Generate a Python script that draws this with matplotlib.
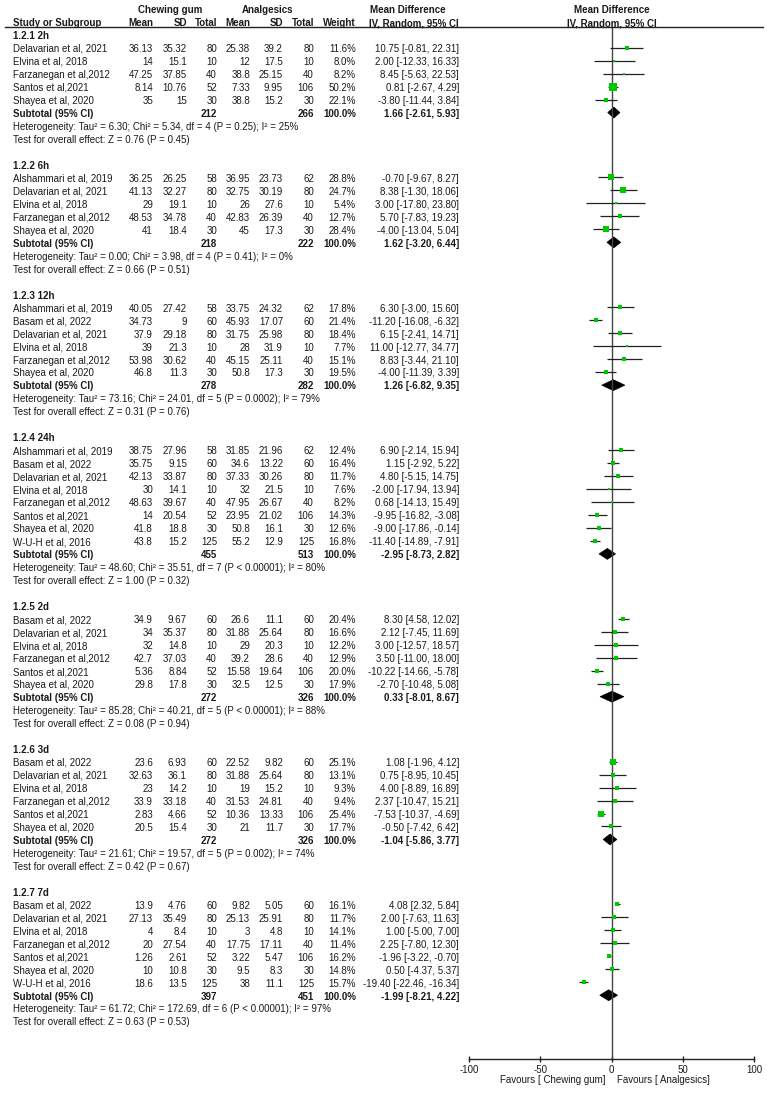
import numpy as np
import matplotlib
matplotlib.use('Agg')
import matplotlib.pyplot as plt
from matplotlib.lines import Line2D
from matplotlib.patches import Polygon
from matplotlib.transforms import blended_transform_factory

plt.rcParams['font.family'] = ['Liberation Sans', 'DejaVu Sans']

# 数据
group_names = ['1.2.1 2h', '1.2.2 6h', '1.2.3 12h', '1.2.4 24h', '1.2.5 2d', '1.2.6 3d', '1.2.7 7d']
group_sizes = [5, 5, 6, 8, 6, 6, 7]

study = ['Delavarian et al, 2021', 'Elvina et al, 2018', 'Farzanegan et al,2012', 'Santos et al,2021', 'Shayea et al, 2020',
         'Alshammari et al, 2019', 'Delavarian et al, 2021', 'Elvina et al, 2018', 'Farzanegan et al,2012', 'Shayea et al, 2020',
         'Alshammari et al, 2019', 'Basam et al, 2022', 'Delavarian et al, 2021', 'Elvina et al, 2018', 'Farzanegan et al,2012', 'Shayea et al, 2020',
         'Alshammari et al, 2019', 'Basam et al, 2022', 'Delavarian et al, 2021', 'Elvina et al, 2018', 'Farzanegan et al,2012', 'Santos et al,2021', 'Shayea et al, 2020', 'W-U-H et al, 2016',
         'Basam et al, 2022', 'Delavarian et al, 2021', 'Elvina et al, 2018', 'Farzanegan et al,2012', 'Santos et al,2021', 'Shayea et al, 2020',
         'Basam et al, 2022', 'Delavarian et al, 2021', 'Elvina et al, 2018', 'Farzanegan et al,2012', 'Santos et al,2021', 'Shayea et al, 2020',
         'Basam et al, 2022', 'Delavarian et al, 2021', 'Elvina et al, 2018', 'Farzanegan et al,2012', 'Santos et al,2021', 'Shayea et al, 2020', 'W-U-H et al, 2016']

gum_mean = [36.13, 14, 47.25, 8.14, 35,
            36.25, 41.13, 29, 48.53, 41,
            40.05, 34.73, 37.9, 39, 53.98, 46.8,
            38.75, 35.75, 42.13, 30, 48.63, 14, 41.8, 43.8,
            34.9, 34, 32, 42.7, 5.36, 29.8,
            23.6, 32.63, 23, 33.9, 2.83, 20.5,
            13.9, 27.13, 4, 20, 1.26, 10, 18.6]
gum_sd = [35.32, 15.1, 37.85, 10.76, 15,
          26.25, 32.27, 19.1, 34.78, 18.4,
          27.42, 9, 29.18, 21.3, 30.62, 11.3,
          27.96, 9.15, 33.87, 14.1, 39.67, 20.54, 18.8, 15.2,
          9.67, 35.37, 14.8, 37.03, 8.84, 17.8,
          6.93, 36.1, 14.2, 33.18, 4.66, 15.4,
          4.76, 35.49, 8.4, 27.54, 2.61, 10.8, 13.5]
gum_n = [80, 10, 40, 52, 30,
         58, 80, 10, 40, 30,
         58, 60, 80, 10, 40, 30,
         58, 60, 80, 10, 40, 52, 30, 125,
         60, 80, 10, 40, 52, 30,
         60, 80, 10, 40, 52, 30,
         60, 80, 10, 40, 52, 30, 125]
ana_mean = [25.38, 12, 38.8, 7.33, 38.8,
            36.95, 32.75, 26, 42.83, 45,
            33.75, 45.93, 31.75, 28, 45.15, 50.8,
            31.85, 34.6, 37.33, 32, 47.95, 23.95, 50.8, 55.2,
            26.6, 31.88, 29, 39.2, 15.58, 32.5,
            22.52, 31.88, 19, 31.53, 10.36, 21,
            9.82, 25.13, 3, 17.75, 3.22, 9.5, 38]
ana_sd = [39.2, 17.5, 25.15, 9.95, 15.2,
          23.73, 30.19, 27.6, 26.39, 17.3,
          24.32, 17.07, 25.98, 31.9, 25.11, 17.3,
          21.96, 13.22, 30.26, 21.5, 26.67, 21.02, 16.1, 12.9,
          11.1, 25.64, 20.3, 28.6, 19.64, 12.5,
          9.82, 25.64, 15.2, 24.81, 13.33, 11.7,
          5.05, 25.91, 4.8, 17.11, 5.47, 8.3, 11.1]
ana_n = [80, 10, 40, 106, 30,
         62, 80, 10, 40, 30,
         62, 60, 80, 10, 40, 30,
         62, 60, 80, 10, 40, 106, 30, 125,
         60, 80, 10, 40, 106, 30,
         60, 80, 10, 40, 106, 30,
         60, 80, 10, 40, 106, 30, 125]
weight = [11.6, 8.0, 8.2, 50.2, 22.1,
          28.8, 24.7, 5.4, 12.7, 28.4,
          17.8, 21.4, 18.4, 7.7, 15.1, 19.5,
          12.4, 16.4, 11.7, 7.6, 8.2, 14.3, 12.6, 16.8,
          20.4, 16.6, 12.2, 12.9, 20.0, 17.9,
          25.1, 13.1, 9.3, 9.4, 25.4, 17.7,
          16.1, 11.7, 14.1, 11.4, 16.2, 14.8, 15.7]
md = [10.75, 2.00, 8.45, 0.81, -3.80,
      -0.70, 8.38, 3.00, 5.70, -4.00,
      6.30, -11.20, 6.15, 11.00, 8.83, -4.00,
      6.90, 1.15, 4.80, -2.00, 0.68, -9.95, -9.00, -11.40,
      8.30, 2.12, 3.00, 3.50, -10.22, -2.70,
      1.08, 0.75, 4.00, 2.37, -7.53, -0.50,
      4.08, 2.00, 1.00, 2.25, -1.96, 0.50, -19.40]
ci_lo = [-0.81, -12.33, -5.63, -2.67, -11.44,
         -9.67, -1.30, -17.80, -7.83, -13.04,
         -3.00, -16.08, -2.41, -12.77, -3.44, -11.39,
         -2.14, -2.92, -5.15, -17.94, -14.13, -16.82, -17.86, -14.89,
         4.58, -7.45, -12.57, -11.00, -14.66, -10.48,
         -1.96, -8.95, -8.89, -10.47, -10.37, -7.42,
         2.32, -7.63, -5.00, -7.80, -3.22, -4.37, -22.46]
ci_hi = [22.31, 16.33, 22.53, 4.29, 3.84,
         8.27, 18.06, 23.80, 19.23, 5.04,
         15.60, -6.32, 14.71, 34.77, 21.10, 3.39,
         15.94, 5.22, 14.75, 13.94, 15.49, -3.08, -0.14, -7.91,
         12.02, 11.69, 18.57, 18.00, -5.78, 5.08,
         4.12, 10.45, 16.89, 15.21, -4.69, 6.42,
         5.84, 11.63, 7.00, 12.30, -0.70, 5.37, -16.34]

sub_gum_n = [212, 218, 278, 455, 272, 272, 397]
sub_ana_n = [266, 222, 282, 513, 326, 326, 451]
sub_md = [1.66, 1.62, 1.26, -2.95, 0.33, -1.04, -1.99]
sub_lo = [-2.61, -3.20, -6.82, -8.73, -8.01, -5.86, -8.21]
sub_hi = [5.93, 6.44, 9.35, 2.82, 8.67, 3.77, 4.22]
tau2 = [6.30, 0.00, 73.16, 48.60, 85.28, 21.61, 61.72]
chi2 = [5.34, 3.98, 24.01, 35.51, 40.21, 19.57, 172.69]
het_df = [4, 4, 5, 7, 5, 5, 6]
het_p = ['= 0.25', '= 0.41', '= 0.0002', '< 0.00001', '< 0.00001', '= 0.002', '< 0.00001']
i2 = [25, 0, 79, 80, 88, 74, 97]
z_val = [0.76, 0.66, 0.31, 1.00, 0.08, 0.42, 0.63]
z_p = [0.45, 0.51, 0.76, 0.32, 0.94, 0.67, 0.53]

xticks = [-100, -50, 0, 50, 100]


def main():
    W, H = 767, 1093
    fig = plt.figure(figsize=(W / 100, H / 100), dpi=100)
    fs = 7.0
    tc = '#1a1a1a'
    row0, step = 36, 12.98   # 第一行像素位置和行距
    top_px, bot_px = 27, 1059
    x0_px, x1_px = 469, 754

    ax = fig.add_axes([x0_px / W, 1 - bot_px / H, (x1_px - x0_px) / W, (bot_px - top_px) / H])
    ax.set_xlim(-100, 100)
    ax.set_ylim((bot_px - row0) / step, (top_px - row0) / step)
    for s in ['left', 'right', 'top']:
        ax.spines[s].set_visible(False)
    ax.spines['bottom'].set_color('#222222')
    ax.spines['bottom'].set_linewidth(1)
    ax.set_yticks([])
    ax.set_xticks(xticks)
    ax.set_xticklabels([str(t) for t in xticks])
    ax.tick_params(axis='x', direction='inout', length=5, width=1, pad=1.5,
                   labelsize=fs, colors='#222222', labelcolor=tc)
    ax.axvline(0, color='#444444', lw=1)

    tr = blended_transform_factory(fig.transFigure, ax.transData)

    def put(px, y, s, ha='right', bold=False):
        ax.text(px / W, y, s, transform=tr, ha=ha, va='center', fontsize=fs,
                color=tc, fontweight='bold' if bold else 'normal')

    # 表头
    hy1 = (10 - row0) / step
    hy2 = (23 - row0) / step
    put(170, hy1, 'Chewing gum', ha='center', bold=True)
    put(267, hy1, 'Analgesics', ha='center', bold=True)
    put(408, hy1, 'Mean Difference', ha='center', bold=True)
    put(13, hy2, 'Study or Subgroup', ha='left', bold=True)
    put(153, hy2, 'Mean', bold=True)
    put(187, hy2, 'SD', bold=True)
    put(217, hy2, 'Total', bold=True)
    put(250, hy2, 'Mean', bold=True)
    put(283, hy2, 'SD', bold=True)
    put(314, hy2, 'Total', bold=True)
    put(356, hy2, 'Weight', bold=True)
    put(459, hy2, 'IV, Random, 95% CI', bold=True)
    ax.text(0, hy1, 'Mean Difference', ha='center', va='center', fontsize=fs, color=tc, fontweight='bold')
    ax.text(0, hy2, 'IV, Random, 95% CI', ha='center', va='center', fontsize=fs, color=tc, fontweight='bold')
    fig.add_artist(Line2D([5 / W, 763 / W], [1 - 27 / H] * 2, transform=fig.transFigure, color='#222222', lw=1))

    r = 0
    k = 0
    off = -0.1
    for g in range(len(group_names)):
        put(13, r, group_names[g], ha='left', bold=True)
        for j in range(group_sizes[g]):
            y = r + 1 + j
            put(13, y, study[k], ha='left')
            put(153, y, f'{gum_mean[k]:g}')
            put(187, y, f'{gum_sd[k]:g}')
            put(217, y, f'{gum_n[k]}')
            put(250, y, f'{ana_mean[k]:g}')
            put(283, y, f'{ana_sd[k]:g}')
            put(314, y, f'{ana_n[k]}')
            put(356, y, f'{weight[k]:.1f}%')
            put(459, y, f'{md[k]:.2f} [{ci_lo[k]:.2f}, {ci_hi[k]:.2f}]')
            ax.plot([ci_lo[k], ci_hi[k]], [y + off, y + off], color='#222222', lw=0.9, solid_capstyle='butt')
            ax.plot(md[k], y + off, marker='s', color='#00c800', markersize=0.74 * np.sqrt(weight[k]), mew=0)
            k += 1
        ys = r + group_sizes[g] + 1
        put(13, ys, 'Subtotal (95% CI)', ha='left', bold=True)
        put(217, ys, f'{sub_gum_n[g]}', bold=True)
        put(314, ys, f'{sub_ana_n[g]}', bold=True)
        put(356, ys, '100.0%', bold=True)
        put(459, ys, f'{sub_md[g]:.2f} [{sub_lo[g]:.2f}, {sub_hi[g]:.2f}]', bold=True)
        d = 0.42
        yc = ys + off
        ax.add_patch(Polygon([[sub_lo[g], yc], [sub_md[g], yc - d], [sub_hi[g], yc], [sub_md[g], yc + d]],
                             closed=True, color='black', lw=0.5))
        put(13, ys + 1, f'Heterogeneity: Tau² = {tau2[g]:.2f}; Chi² = {chi2[g]:.2f}, df = {het_df[g]} '
                        f'(P {het_p[g]}); I² = {i2[g]}%', ha='left')
        put(13, ys + 2, f'Test for overall effect: Z = {z_val[g]:.2f} (P = {z_p[g]:.2f})', ha='left')
        r = ys + 4

    fy = (1080 - row0) / step
    ax.text(-3.9, fy, 'Favours [ Chewing gum]', ha='right', va='center', fontsize=fs, color=tc)
    ax.text(3.9, fy, 'Favours [ Analgesics]', ha='left', va='center', fontsize=fs, color=tc)

    fig.savefig('out.png', dpi=100, facecolor='white')


if __name__ == '__main__':
    main()
